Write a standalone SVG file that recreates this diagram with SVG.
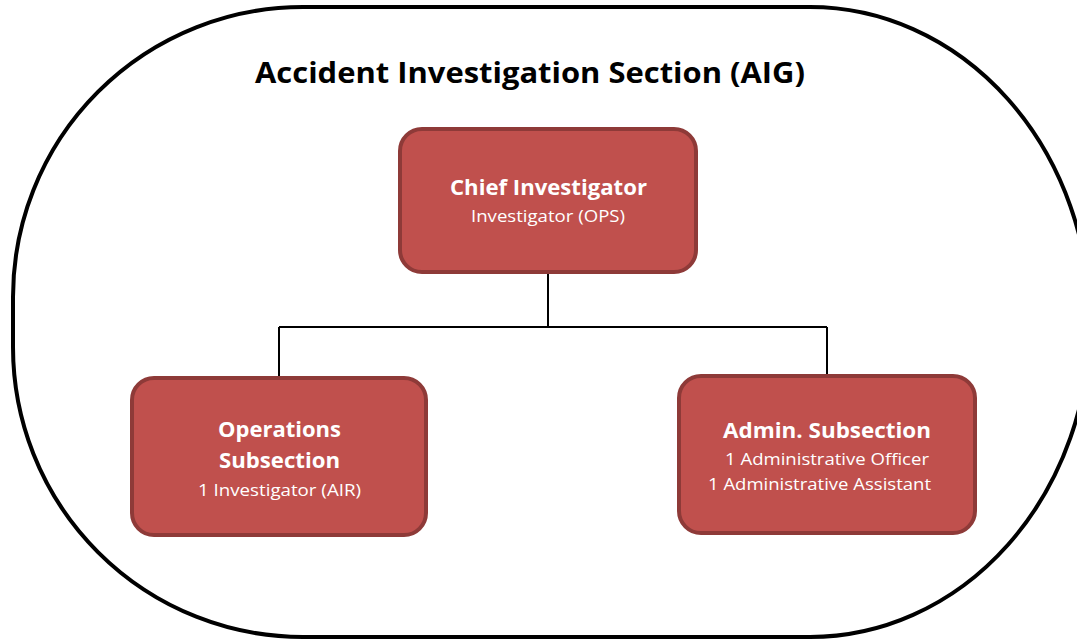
<svg xmlns="http://www.w3.org/2000/svg" width="1077" height="641" viewBox="0 0 1077 641">
<style>
.box{fill:#C0504D;stroke:#8E3A38;stroke-width:4}
.hd{font-family:"Open Sans","Liberation Sans",sans-serif;font-weight:bold;font-size:22px;fill:#FFFFFF;text-anchor:middle}
.sb{font-family:"Open Sans","Liberation Sans",sans-serif;font-size:17px;fill:#FFFFFF;text-anchor:middle}
.title{font-family:"Open Sans","Liberation Sans",sans-serif;font-weight:bold;font-size:28px;fill:#000000}
.conn{fill:none;stroke:#000000;stroke-width:2}
</style>
<rect width="1077" height="641" fill="#FFFFFF"/>
<g id="section">
<path d="M13,297 A290,290 0 0 1 303,7 L810,7 A280,315 0 0 1 810,637 L303,637 A290,290 0 0 1 13,347 Z" fill="none" stroke="#000000" stroke-width="4"/>
<text class="title" x="255" y="83" textLength="550" lengthAdjust="spacingAndGlyphs">Accident Investigation Section (AIG)</text>
</g>
<g id="connectors">
<path class="conn" d="M548,274 V327 M279,327 H827 M279,327 V377 M827,327 V375"/>
</g>
<g id="chief">
<rect class="box" x="400" y="129" width="296" height="143" rx="22" ry="22"/>
<text class="hd" x="548.5" y="195" textLength="197" lengthAdjust="spacingAndGlyphs">Chief Investigator</text>
<text class="sb" x="548" y="222" textLength="154" lengthAdjust="spacingAndGlyphs">Investigator (OPS)</text>
</g>
<g id="operations">
<rect class="box" x="132" y="378" width="294" height="157" rx="22" ry="22"/>
<text class="hd" x="279.5" y="437" textLength="123" lengthAdjust="spacingAndGlyphs">Operations</text>
<text class="hd" x="279.5" y="468" textLength="121" lengthAdjust="spacingAndGlyphs">Subsection</text>
<text class="sb" x="279.5" y="496" textLength="163" lengthAdjust="spacingAndGlyphs">1 Investigator (AIR)</text>
</g>
<g id="admin">
<rect class="box" x="679" y="376" width="296" height="157" rx="22" ry="22"/>
<text class="hd" x="827" y="438" textLength="208" lengthAdjust="spacingAndGlyphs">Admin. Subsection</text>
<text class="sb" x="827" y="465" textLength="204" lengthAdjust="spacingAndGlyphs">1 Administrative Officer</text>
<text class="sb" x="819.5" y="490" textLength="223" lengthAdjust="spacingAndGlyphs">1 Administrative Assistant</text>
</g>
</svg>
